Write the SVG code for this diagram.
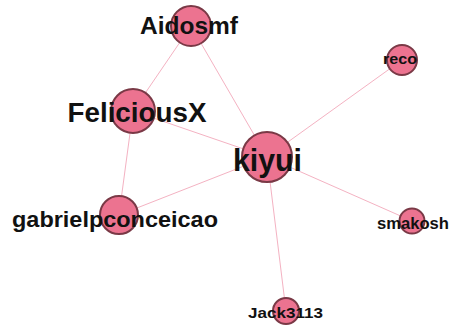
<svg xmlns="http://www.w3.org/2000/svg" width="450" height="329" viewBox="0 0 450 329">
  <style>
    .edge { stroke: #f4b2c2; stroke-width: 1; fill: none; }
    .node { fill: #ec7390; stroke: #7a3946; stroke-width: 2; }
    .label { font-family: "Liberation Sans", Arial, sans-serif; font-weight: bold; fill: #111; text-anchor: middle; }
  </style>
  <rect width="450" height="329" fill="#ffffff"/>
  <g id="edges">
    <line class="edge" x1="191" y1="26" x2="133" y2="111"/>
    <line class="edge" x1="191" y1="26" x2="267" y2="157"/>
    <line class="edge" x1="133" y1="111" x2="119" y2="215"/>
    <line class="edge" x1="133" y1="111" x2="267" y2="157"/>
    <line class="edge" x1="119" y1="215" x2="267" y2="157"/>
    <line class="edge" x1="267" y1="157" x2="402" y2="60"/>
    <line class="edge" x1="267" y1="157" x2="412" y2="221"/>
    <line class="edge" x1="267" y1="157" x2="286" y2="311"/>
  </g>
  <g id="node-aidosmf">
    <circle class="node" cx="191" cy="26" r="20"/>
    <text class="label" x="189" y="34" font-size="24" textLength="98" lengthAdjust="spacingAndGlyphs">Aidosmf</text>
  </g>
  <g id="node-feliciousx">
    <circle class="node" cx="133" cy="111" r="22"/>
    <text class="label" x="137" y="122" font-size="27" textLength="139" lengthAdjust="spacingAndGlyphs">FeliciousX</text>
  </g>
  <g id="node-gabrielpconceicao">
    <circle class="node" cx="119" cy="215" r="19"/>
    <text class="label" x="115" y="227" font-size="22" textLength="206" lengthAdjust="spacingAndGlyphs">gabrielpconceicao</text>
  </g>
  <g id="node-kiyui">
    <circle class="node" cx="267" cy="157" r="25"/>
    <text class="label" x="267.5" y="171" font-size="32" textLength="69" lengthAdjust="spacingAndGlyphs">kiyui</text>
  </g>
  <g id="node-reco">
    <circle class="node" cx="402" cy="60" r="15"/>
    <text class="label" x="400" y="64" font-size="15" textLength="34" lengthAdjust="spacingAndGlyphs">reco</text>
  </g>
  <g id="node-smakosh">
    <circle class="node" cx="412" cy="221" r="12.5"/>
    <text class="label" x="413" y="229" font-size="16" textLength="72" lengthAdjust="spacingAndGlyphs">smakosh</text>
  </g>
  <g id="node-jack3113">
    <circle class="node" cx="286" cy="311" r="13"/>
    <text class="label" x="285.5" y="318" font-size="15" textLength="75" lengthAdjust="spacingAndGlyphs">Jack3113</text>
  </g>
</svg>
